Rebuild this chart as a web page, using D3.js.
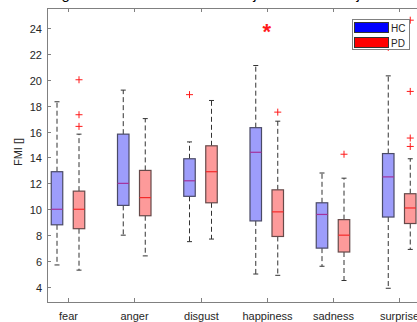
<!DOCTYPE html>
<html>
<head>
<meta charset="utf-8">
<script src="https://cdn.jsdelivr.net/npm/d3@7"></script>
<style>
body { margin:0; background:#fff; }
text { font-family: "Liberation Sans", Arial, sans-serif; }
</style>
</head>
<body>
<div id="chart"></div>
<script>
// data
var emotions = ['fear','anger','disgust','happiness','sadness','surprise'];
var groups = ['HC','PD'];
// [whiskerLow, q1, median, q3, whiskerHigh]
var hcStats = [
  [5.7, 8.8, 10.0, 12.9, 18.3],
  [8.0, 10.3, 12.0, 15.8, 19.2],
  [7.5, 11.0, 12.2, 13.9, 15.2],
  [5.0, 9.1, 14.4, 16.3, 21.1],
  [5.6, 7.0, 9.6, 10.5, 12.8],
  [3.9, 9.4, 12.5, 14.3, 20.3]
];
var pdStats = [
  [5.3, 8.5, 10.0, 11.4, 15.8],
  [6.4, 9.5, 10.9, 13.0, 17.0],
  [7.7, 10.5, 12.9, 14.9, 18.4],
  [4.9, 7.9, 9.8, 11.5, 16.8],
  [4.5, 6.7, 8.0, 9.2, 12.4],
  [6.9, 8.9, 10.1, 11.2, 13.9]
];
var hcOutliers = [[], [], [18.85], [], [], [22.5]];
var pdOutliers = [[20.0, 17.3, 16.4], [], [], [17.5], [14.25], [24.6, 19.1, 15.5, 14.85]];
var yTicks = [4,6,8,10,12,14,16,18,20,22,24];
var sigStar = [{cat: 3, value: 23.9}];

var svgWidth = 417, svgHeight = 322;

var svg = d3.select('#chart').append('svg')
  .attr('width', svgWidth)
  .attr('height', svgHeight);

var xScale = d3.scaleLinear().domain([-0.317, 5.6]).range([47, 439]);
var yScale = d3.scaleLinear().domain([2.84, 25.54]).range([302, 8]);

var tickCol = '#262626';
var axisCol = '#808080';

// title, mostly cut off by the top edge
svg.append('text')
  .attr('x', 205).attr('y', -1)
  .attr('text-anchor', 'middle')
  .attr('font-size', 15)
  .attr('fill', '#000')
  .text('Average FMI of emotions - HC subjects vs PD subjects');

// frame
var x0 = xScale.range()[0], x1 = xScale.range()[1];
var yTop = yScale.range()[1], yBot = yScale.range()[0];
svg.append('rect')
  .attr('x', x0 + 0.5).attr('y', yTop + 0.5)
  .attr('width', x1 - x0).attr('height', yBot - yTop)
  .attr('fill', 'none').attr('stroke', axisCol).attr('stroke-width', 1);

// y ticks
yTicks.forEach(function(t) {
  var y = Math.round(yScale(t)) + 0.5;
  svg.append('line').attr('x1', x0).attr('x2', x0 + 4).attr('y1', y).attr('y2', y)
    .attr('stroke', axisCol);
  svg.append('text').attr('x', x0 - 5).attr('y', y + 4)
    .attr('text-anchor', 'end').attr('font-size', 11).attr('fill', tickCol)
    .text(t);
});

// x ticks
emotions.forEach(function(e, i) {
  var x = Math.round(xScale(i)) + 0.5;
  svg.append('line').attr('x1', x).attr('x2', x).attr('y1', yBot).attr('y2', yBot - 4)
    .attr('stroke', axisCol);
  svg.append('line').attr('x1', x).attr('x2', x).attr('y1', yTop).attr('y2', yTop + 4)
    .attr('stroke', axisCol);
  svg.append('text').attr('x', x).attr('y', 320)
    .attr('text-anchor', 'middle').attr('font-size', 11).attr('fill', tickCol)
    .text(e);
});

// y label
svg.append('text')
  .attr('transform', 'translate(22,152)rotate(-90)')
  .attr('text-anchor', 'middle').attr('font-size', 11).attr('fill', tickCol)
  .text('FMI []');

var boxW = 11.5, offset = 11;
var styles = {
  HC: {fill: '#9d9dfb', stroke: '#4a4a66', med: '#a3329c', off: -offset, stats: hcStats, out: hcOutliers},
  PD: {fill: '#fd9a9a', stroke: '#664a4a', med: '#f42a2a', off: offset, stats: pdStats, out: pdOutliers}
};

groups.forEach(function(g) {
  var s = styles[g];
  var grp = svg.append('g').attr('class', 'box-' + g);
  s.stats.forEach(function(d, i) {
    var cx = xScale(i) + s.off;
    // whiskers
    grp.append('line').attr('x1', cx).attr('x2', cx)
      .attr('y1', yScale(d[3])).attr('y2', yScale(d[4]))
      .attr('stroke', '#333').attr('stroke-dasharray', '5,3');
    grp.append('line').attr('x1', cx).attr('x2', cx)
      .attr('y1', yScale(d[1])).attr('y2', yScale(d[0]))
      .attr('stroke', '#333').attr('stroke-dasharray', '5,3');
    [d[0], d[4]].forEach(function(v) {
      grp.append('line').attr('x1', cx - 2.5).attr('x2', cx + 2.5)
        .attr('y1', yScale(v)).attr('y2', yScale(v))
        .attr('stroke', '#333');
    });
    // box
    grp.append('rect')
      .attr('x', cx - boxW / 2).attr('y', yScale(d[3]))
      .attr('width', boxW).attr('height', yScale(d[1]) - yScale(d[3]))
      .attr('fill', s.fill).attr('stroke', s.stroke).attr('stroke-width', 1.2);
    // median
    grp.append('line').attr('x1', cx - boxW / 2).attr('x2', cx + boxW / 2)
      .attr('y1', yScale(d[2])).attr('y2', yScale(d[2]))
      .attr('stroke', s.med).attr('stroke-width', 1.2);
  });
});

// outliers
groups.forEach(function(g) {
  var s = styles[g];
  s.out.forEach(function(list, i) {
    list.forEach(function(v) {
      var cx = xScale(i) + s.off, cy = yScale(v);
      svg.append('path')
        .attr('d', 'M' + (cx - 3.5) + ',' + cy + 'H' + (cx + 3.5) + 'M' + cx + ',' + (cy - 3.5) + 'V' + (cy + 3.5))
        .attr('stroke', '#ff1a1a').attr('stroke-width', 1);
    });
  });
});

// significance star
sigStar.forEach(function(d) {
  svg.append('text')
    .attr('x', xScale(d.cat)).attr('y', yScale(d.value) + 10)
    .attr('text-anchor', 'middle').attr('font-size', 22).attr('font-weight', 'bold')
    .attr('fill', '#ff1a1a')
    .text('*');
});

// legend
var leg = svg.append('g').attr('transform', 'translate(352,19)');
leg.append('rect').attr('x', 0.5).attr('y', 0.5).attr('width', 57).attr('height', 30)
  .attr('fill', '#fff').attr('stroke', '#808080');
var legColors = {HC: '#0000ff', PD: '#ff0000'};
groups.forEach(function(g, i) {
  leg.append('rect').attr('x', 2.5).attr('y', 3.5 + i * 15).attr('width', 34).attr('height', 10)
    .attr('fill', legColors[g]).attr('stroke', '#333');
  leg.append('text').attr('x', 39).attr('y', 12.5 + i * 15)
    .attr('font-size', 10).attr('fill', tickCol).text(g);
});
</script>
</body>
</html>
